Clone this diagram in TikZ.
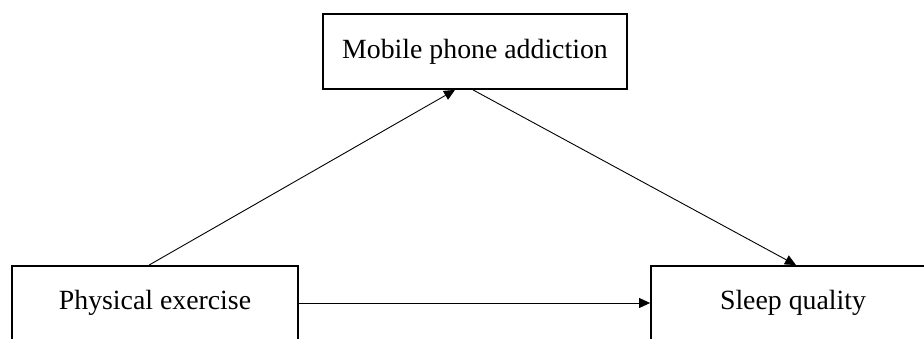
\documentclass[tikz,border=0pt]{standalone}
\usepackage{fontspec}
\setmainfont{Liberation Serif}
\usetikzlibrary{arrows.meta}
\begin{document}
\begin{tikzpicture}[x=1pt,y=1pt,
  varbox/.style={draw, line width=1.8pt, rectangle, inner sep=0pt,
    font=\fontsize{27.8}{33}\selectfont},
  link/.style={line width=0.9pt, -{Triangle[length=11pt,width=10pt]}}]
  \useasboundingbox (0,0) rectangle (924,338);
  % the three variables of the mediation model
  \node[varbox, minimum width=304pt, minimum height=75pt] (mpa) at (475,286.5) {Mobile phone addiction};
  \node[varbox, minimum width=286pt, minimum height=74pt] (pe) at (155,35) {Physical exercise};
  \node[varbox, minimum width=284pt, minimum height=74pt] (sq) at (793,35) {Sleep quality};
  % paths
  \draw[link] ([xshift=-6pt]pe.north) -- ([xshift=-20pt]mpa.south);
  \draw[link] ([xshift=-2pt]mpa.south) -- ([xshift=3pt]sq.north);
  \draw[link] (pe.east) -- (sq.west);
\end{tikzpicture}
\end{document}
